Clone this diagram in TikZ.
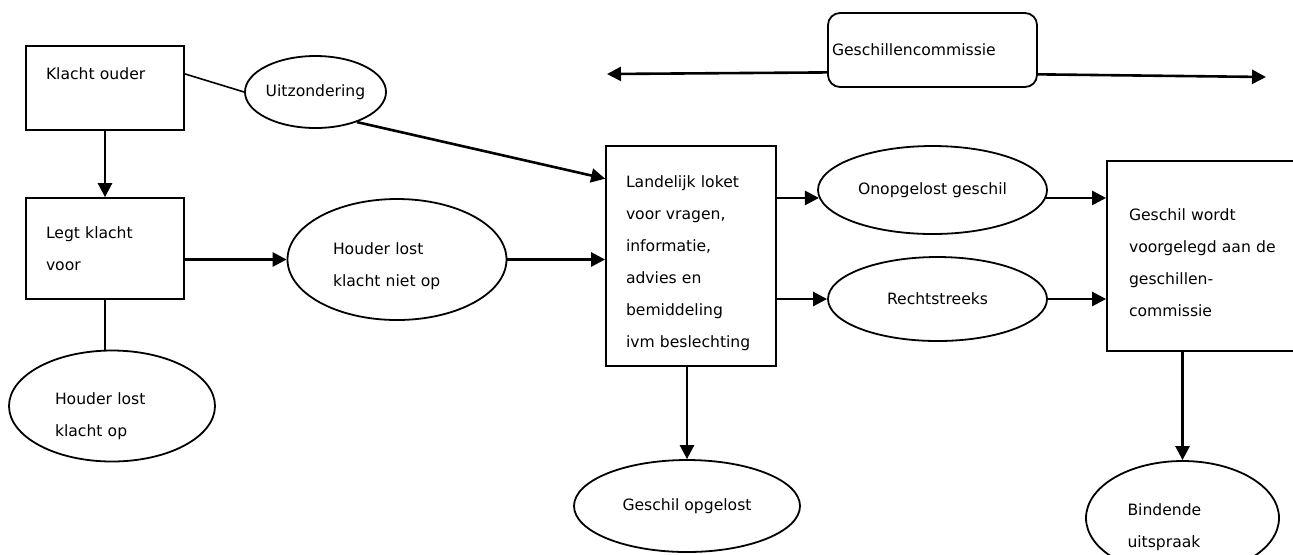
\documentclass[tikz,border=0pt]{standalone}
\usepackage{fontspec}
\setmainfont{DejaVu Sans}
\usetikzlibrary{calc}
\usetikzlibrary{arrows.meta, shapes.geometric}

\begin{document}
\begin{tikzpicture}[
    x=0.5pt, y=-0.5pt,
    font=\fontsize{7.8}{16}\selectfont,
    >={Triangle[length=7pt, width=7pt]},
    % Define styles for boxes and ovals
    step_box/.style={draw, line width=0.9pt, rectangle, align=left, inner xsep=10pt, inner ysep=0pt},
    end_oval/.style={draw, line width=0.9pt, ellipse, align=left, inner sep=0pt},
    commission_box/.style={draw, line width=0.9pt, rounded corners=6pt, align=left, inner xsep=2pt, inner ysep=0pt},
    % Define styles for connectors
    flow_arrow/.style={->, line width=1.3pt},
    flow_line/.style={line width=1.3pt},
    side_line/.style={line width=0.8pt}
]

% --- 0. Frame of the picture ---
\useasboundingbox (0,0) rectangle (1293,554);
\clip (0,0) rectangle (1293,554);

% --- 1. Complaint of the parent ---
\node[step_box, minimum width=79pt, minimum height=42pt, text width=59pt, text depth=14pt] (klacht) at (105,88) {Klacht ouder};
\node[step_box, minimum width=79pt, minimum height=50.5pt, text width=59pt] (legt) at (105,248.5) {Legt klacht\\voor};
\node[end_oval, minimum width=70.5pt, minimum height=36pt] (uitz) at (315.5,92) {Uitzondering};
\node[end_oval, minimum width=109.5pt, minimum height=60.5pt, text width=64pt, text height=12.9pt] (niet) at (397,259.5) {Houder lost\\klacht niet op};
\node[end_oval, minimum width=103pt, minimum height=55.5pt, text width=57pt, text height=15.9pt] (op) at (112,406) {Houder lost\\klacht op};

% --- 2. National desk ---
\node[step_box, minimum width=85pt, minimum height=110pt, text width=65pt, text height=12.9pt] (loket) at (691,256)
    {Landelijk loket\\voor vragen,\\informatie,\\advies en\\bemiddeling\\ivm beslechting};
\node[end_oval, minimum width=113pt, minimum height=46pt] (opgel) at (687,506) {Geschil opgelost};

% --- 3. Disputes committee ---
\node[commission_box, minimum width=104.5pt, minimum height=37pt, text width=100.5pt] (comm) at (932.5,50) {Geschillencommissie};
\coordinate (comm_left) at (607,74);
\coordinate (comm_right) at (1266,77);

\node[end_oval, minimum width=114.5pt, minimum height=44pt] (onopg) at (932.5,190) {Onopgelost geschil};
\node[end_oval, minimum width=109.5pt, minimum height=42pt] (recht) at (937.5,299) {Rechtstreeks};
\node[step_box, minimum width=101.5pt, minimum height=95pt, inner xsep=11pt, text width=79.5pt, text height=12.9pt] (wordt) at (1208.5,256)
    {Geschil wordt\\voorgelegd aan de\\geschillen-\\commissie};
\node[end_oval, minimum width=96.5pt, minimum height=57pt, text width=55pt, text height=14.9pt] (bind) at (1182.5,518) {Bindende\\uitspraak};

% --- 4. Connectors ---
\draw[side_line] (klacht.10) -- (uitz.west);
\draw[flow_arrow] (uitz.-36) -- (loket.138);
\draw[flow_arrow] (klacht.south) -- (legt.north);
\draw[flow_arrow] (legt.east |- niet.west) -- (niet.west);
\draw[flow_line] (legt.south) -- (legt.south |- op.north);
\draw[flow_arrow] (niet.east) -- (niet.east -| loket.west);

\draw[flow_arrow] (loket.east |- onopg.184) -- (onopg.184);
\draw[flow_arrow] (loket.east |- recht.west) -- (recht.west);
\draw[flow_arrow] (opgel.north |- loket.south) -- (opgel.north);

\draw[flow_arrow] (onopg.-4) -- (onopg.-4 -| wordt.west);
\draw[flow_arrow] (recht.east) -- (recht.east -| wordt.west);
\draw[flow_arrow] (wordt.south -| bind.north) -- (bind.north);

% Committee reaches both sides
\draw[flow_arrow] (comm.192) -- (comm_left);
\draw[flow_arrow] (comm.-13) -- (comm_right);

\end{tikzpicture}
\end{document}
